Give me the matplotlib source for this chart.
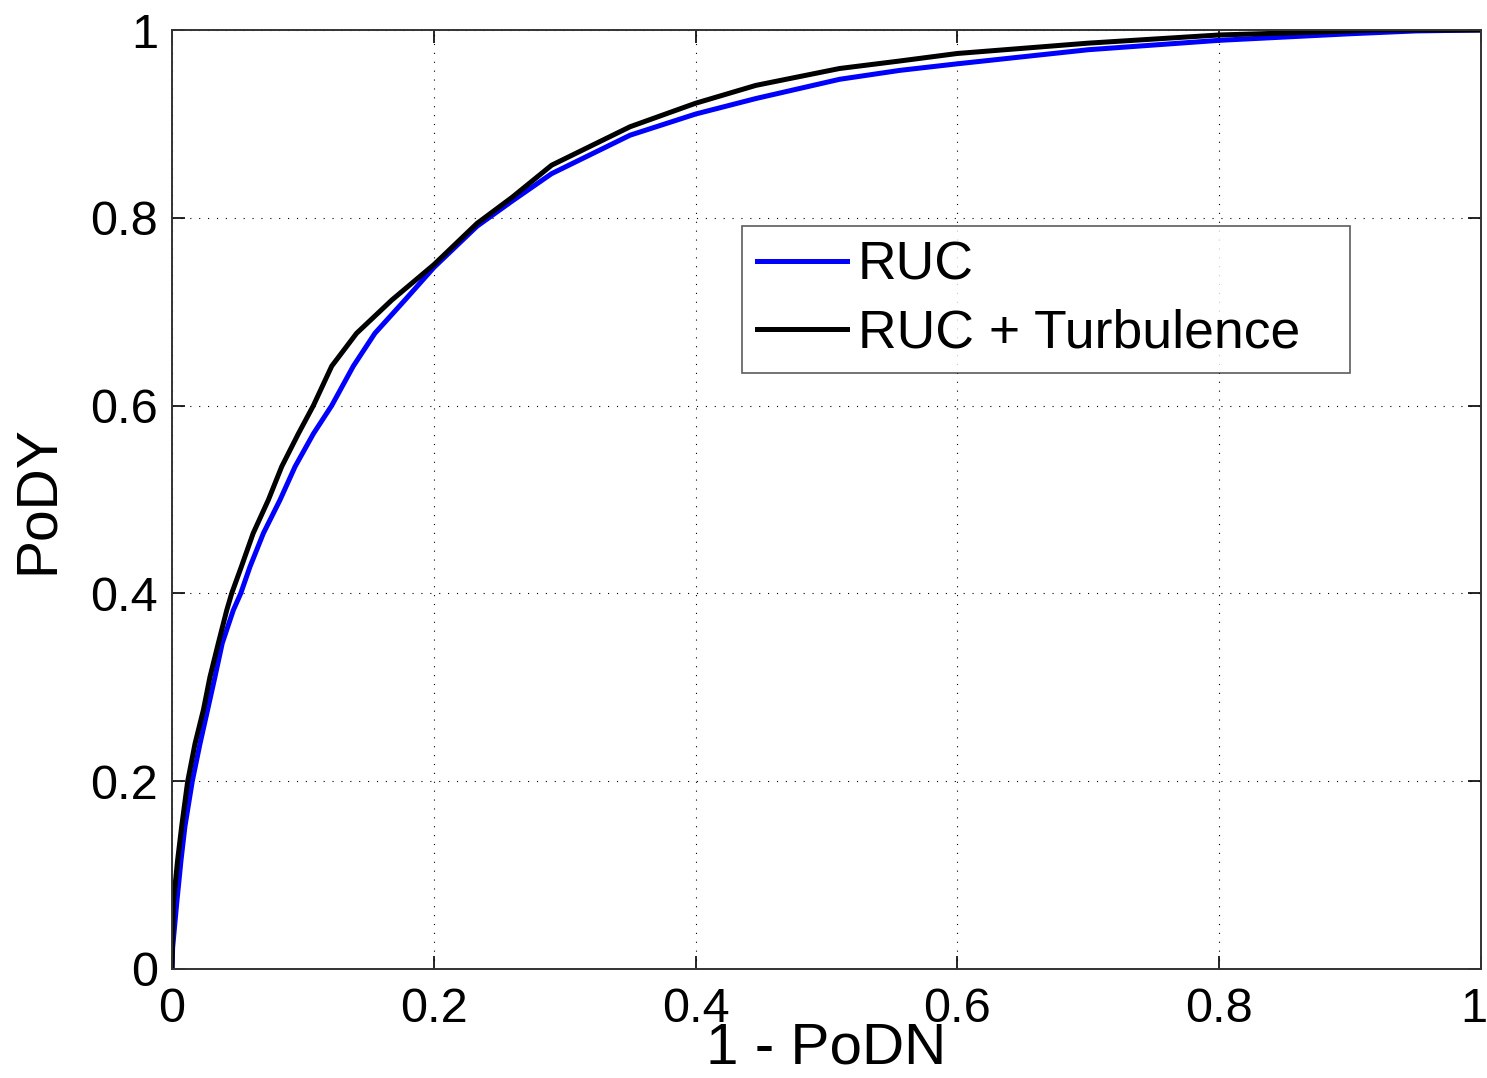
import matplotlib
matplotlib.use("Agg")
import matplotlib.pyplot as plt
import matplotlib.transforms as mtransforms
from matplotlib.ticker import FuncFormatter

# ROC curves (x = 1 - PoDN, y = PoDY)
ruc_x = [0, 0.0005, 0.0036, 0.0069, 0.0099, 0.0155, 0.0214, 0.0272, 0.0328, 0.0384,
         0.0468, 0.0525, 0.0596, 0.0698, 0.0825, 0.094, 0.108, 0.122, 0.1385, 0.155,
         0.178, 0.2, 0.233, 0.26, 0.29, 0.35, 0.40, 0.446, 0.51, 0.556,
         0.60, 0.70, 0.80, 0.90, 0.95, 1.0]
ruc_y = [0, 0.023, 0.07, 0.116, 0.152, 0.2, 0.24, 0.276, 0.311, 0.347,
         0.382, 0.4, 0.4285, 0.464, 0.4995, 0.535, 0.57, 0.6, 0.642, 0.677,
         0.7125, 0.747, 0.791, 0.818, 0.847, 0.888, 0.9105, 0.927, 0.9475, 0.957,
         0.964, 0.979, 0.989, 0.996, 0.999, 1.0]

turb_x = [0, 0.001, 0.0043, 0.0074, 0.012, 0.0176, 0.024, 0.029, 0.0354, 0.0418,
          0.0456, 0.053, 0.062, 0.0736, 0.0838, 0.0965, 0.108, 0.122, 0.141, 0.168,
          0.2, 0.233, 0.26, 0.29, 0.35, 0.40, 0.446, 0.51, 0.556, 0.60,
          0.70, 0.80, 0.88, 0.92, 1.0]
turb_y = [0, 0.07, 0.116, 0.152, 0.2, 0.24, 0.276, 0.311, 0.347, 0.382,
          0.4, 0.4285, 0.464, 0.4995, 0.535, 0.57, 0.6, 0.642, 0.677, 0.7125,
          0.75, 0.794, 0.822, 0.856, 0.897, 0.922, 0.941, 0.959, 0.967, 0.975,
          0.986, 0.9947, 0.998, 1.0, 1.0]

ticks = [0, 0.2, 0.4, 0.6, 0.8, 1.0]
series_labels = ["RUC", "RUC + Turbulence"]

plt.rcParams["font.family"] = ["Liberation Sans", "DejaVu Sans"]

fig = plt.figure(figsize=(14.87, 10.78), dpi=100)
ax = fig.add_axes([172 / 1487, 109 / 1078, 1309 / 1487, 939 / 1078])

ax.plot(ruc_x, ruc_y, color="#0000ff", lw=3.6, label=series_labels[0])
ax.plot(turb_x, turb_y, color="black", lw=3.6, label=series_labels[1])

ax.set_xlim(0, 1)
ax.set_ylim(0, 1)
ax.set_xticks(ticks)
ax.set_yticks(ticks)
fmt = FuncFormatter(lambda v, _: "%g" % v)
ax.xaxis.set_major_formatter(fmt)
ax.yaxis.set_major_formatter(fmt)

ax.grid(True, color="black", lw=0.8, linestyle=(0, (1, 7)))
ax.tick_params(direction="in", top=True, right=True, length=9.4, width=1.2,
               labelsize=35, pad=10)
ax.tick_params(axis="x", pad=13)
for s in ax.spines.values():
    s.set_linewidth(1.4)
    s.set_color("#333333")

# nudge the last x tick label so it stays inside the figure
last = ax.xaxis.get_major_ticks()[-1].label1
last.set_transform(last.get_transform() +
                   mtransforms.ScaledTranslation(-0.075, 0, fig.dpi_scale_trans))

ax.set_xlabel("1 - PoDN", fontsize=42)
ax.set_ylabel("PoDY", fontsize=41)
ax.xaxis.set_label_coords(0.5, -0.056)
ax.yaxis.set_label_coords(-0.082, 0.5)

leg = ax.legend(loc="upper left", bbox_to_anchor=(0.4355, 0.637, 0.4645, 0.154),
                mode="expand", fontsize=38.5,
                frameon=True, fancybox=False, borderpad=0.27, labelspacing=0.34,
                handlelength=1.7, handletextpad=0.2, borderaxespad=0)
leg.get_frame().set_edgecolor("#333333")
leg.get_frame().set_linewidth(1.2)

fig.savefig("out.png", dpi=100)
